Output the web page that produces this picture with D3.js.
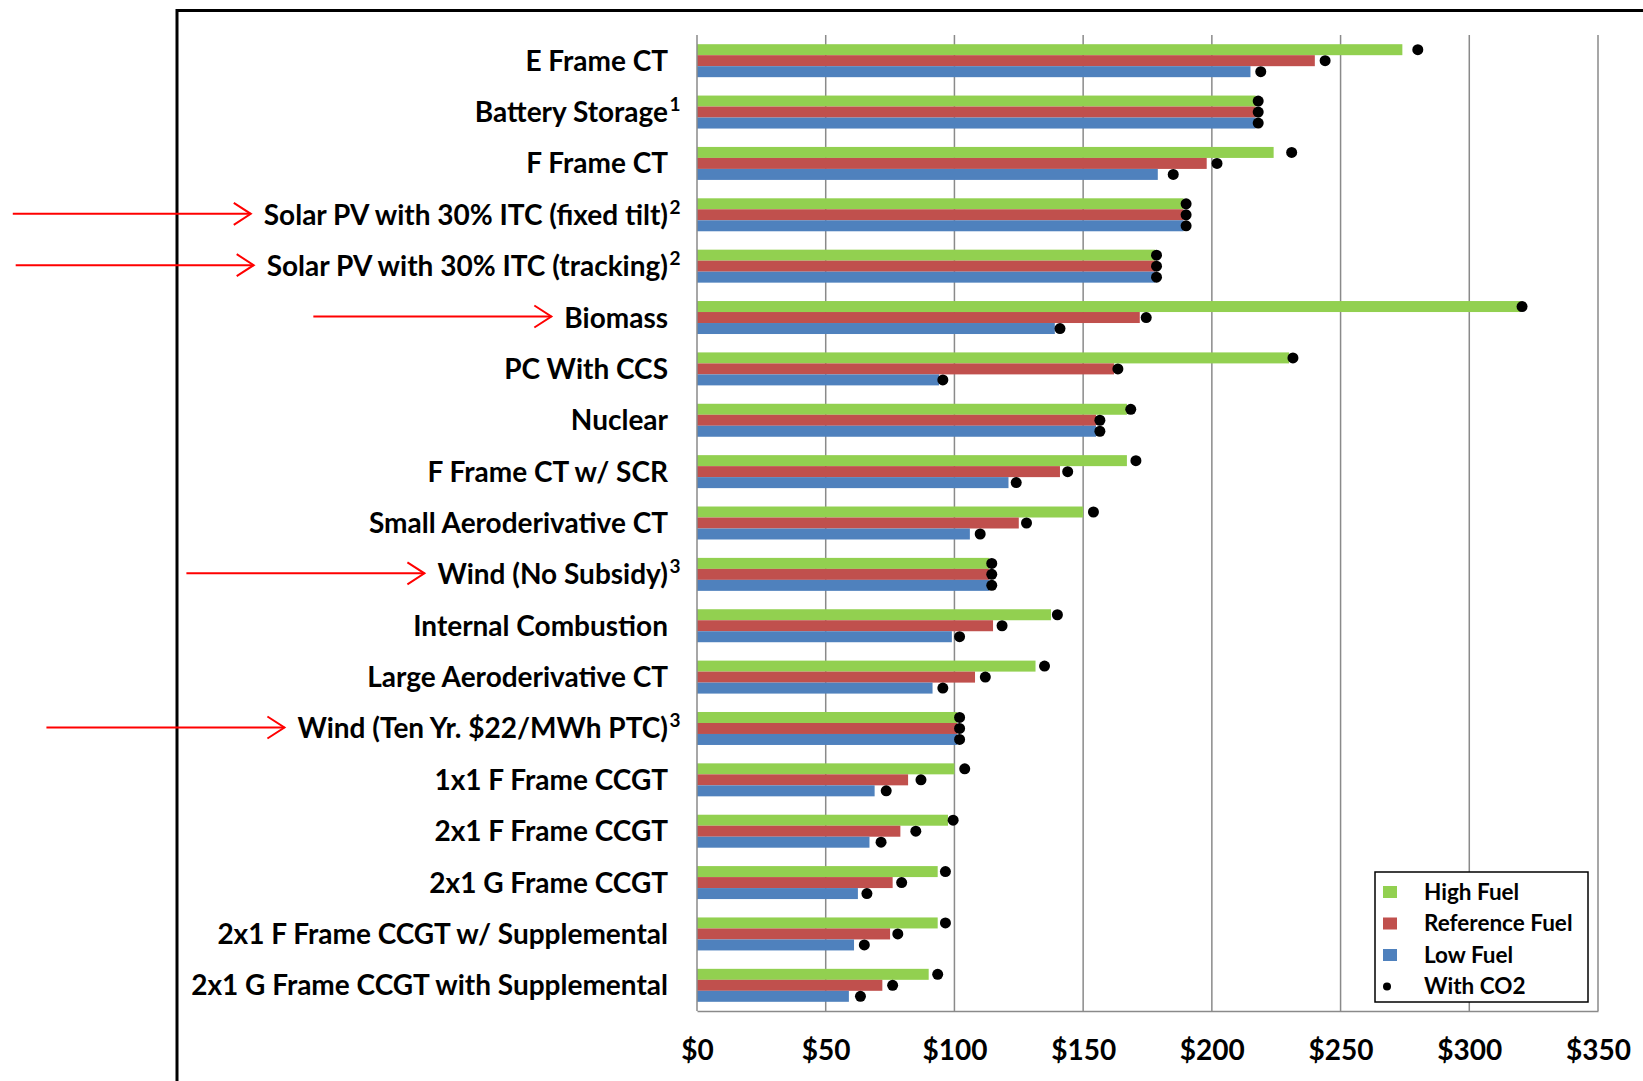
<!DOCTYPE html>
<html><head><meta charset="utf-8">
<script src="https://cdn.jsdelivr.net/npm/d3@7"></script>
<style>
body{margin:0;background:#fff;overflow:hidden}
text{font-family:Lato,"Open Sans",sans-serif;font-weight:700;fill:#000}
</style>
</head><body>
<svg id="chart" width="1643" height="1081"></svg>
<script>
// ---- data ----
const categories = [
  "E Frame CT",
  "Battery Storage",
  "F Frame CT",
  "Solar PV with 30% ITC (fixed tilt)",
  "Solar PV with 30% ITC (tracking)",
  "Biomass",
  "PC With CCS",
  "Nuclear",
  "F Frame CT w/ SCR",
  "Small Aeroderivative CT",
  "Wind (No Subsidy)",
  "Internal Combustion",
  "Large Aeroderivative CT",
  "Wind (Ten Yr. $22/MWh PTC)",
  "1x1 F Frame CCGT",
  "2x1 F Frame CCGT",
  "2x1 G Frame CCGT",
  "2x1 F Frame CCGT w/ Supplemental",
  "2x1 G Frame CCGT with Supplemental"
];
const footnotes = ["", "1", "", "2", "2", "", "", "", "", "", "3", "", "", "3", "", "", "", "", ""];
const highFuel      = [274, 217, 224, 189, 178, 320, 230, 167, 167, 150, 113.5, 137.5, 131.5, 101, 100, 97.5, 93.5, 93.5, 90];
const referenceFuel = [240, 217, 198, 189, 178, 172, 162, 155, 141, 125, 113.5, 115, 108, 101, 82, 79, 76, 75, 72];
const lowFuel       = [215, 217, 179, 189, 178, 139, 94, 155, 121, 106, 113.5, 99, 91.5, 101, 69, 67, 62.5, 61, 59];
const highFuelCO2      = [280, 218, 231, 190, 178.5, 320.5, 231.5, 168.5, 170.5, 154, 114.5, 140, 135, 102, 104, 99.5, 96.5, 96.5, 93.5];
const referenceFuelCO2 = [244, 218, 202, 190, 178.5, 174.5, 163.5, 156.5, 144, 128, 114.5, 118.5, 112, 102, 87, 85, 79.5, 78, 76];
const lowFuelCO2       = [219, 218, 185, 190, 178.5, 141, 95.5, 156.5, 124, 110, 114.5, 102, 95.5, 102, 73.5, 71.5, 66, 65, 63.5];
const seriesNames = ["High Fuel", "Reference Fuel", "Low Fuel"];
const co2Name = "With CO2";
const xTicks = [0, 50, 100, 150, 200, 250, 300, 350];
const arrowedCategories = [
  "Solar PV with 30% ITC (fixed tilt)",
  "Solar PV with 30% ITC (tracking)",
  "Biomass",
  "Wind (No Subsidy)",
  "Wind (Ten Yr. $22/MWh PTC)"
];

(function(){
const colors = {"High Fuel":"#92D050","Reference Fuel":"#C0504D","Low Fuel":"#4F81BD"};
const rows = categories.map((c,i)=>({
  cat:c, note:footnotes[i],
  vals:[
    {s:"High Fuel", v:highFuel[i], co2:highFuelCO2[i]},
    {s:"Reference Fuel", v:referenceFuel[i], co2:referenceFuelCO2[i]},
    {s:"Low Fuel", v:lowFuel[i], co2:lowFuelCO2[i]}
  ]
}));

const svg = d3.select("#chart");
const pL = 697, pR = 1598, pT = 35, pB = 1011;

// outer frame
svg.append("rect").attr("x",177).attr("y",10.5).attr("width",1643).attr("height",1200)
  .attr("fill","#fff").attr("stroke","#000").attr("stroke-width",3);

const x = d3.scaleLinear().domain([0,350]).range([pL,pR]);
const y = d3.scaleBand().domain(categories).range([pT,pB]).paddingInner(0.358).paddingOuter(0.179);
const ys = d3.scaleBand().domain(seriesNames).range([0,y.bandwidth()]);

// gridlines
svg.append("g").selectAll("line").data(xTicks.filter(t=>t>0)).join("line")
  .attr("x1",d=>x(d)).attr("x2",d=>x(d)).attr("y1",pT).attr("y2",pB)
  .attr("stroke","#8a8a8a").attr("stroke-width",1.5);

// bars
const g = svg.append("g").selectAll("g").data(rows).join("g")
  .attr("transform",d=>`translate(0,${y(d.cat)})`);
g.selectAll("rect").data(d=>d.vals).join("rect")
  .attr("x",x(0)).attr("y",d=>ys(d.s)).attr("width",d=>x(d.v)-x(0)).attr("height",ys.bandwidth())
  .attr("fill",d=>colors[d.s]);
g.selectAll("circle").data(d=>d.vals).join("circle")
  .attr("cx",d=>x(d.co2)).attr("cy",d=>ys(d.s)+ys.bandwidth()/2).attr("r",5.5).attr("fill","#000");

// axes lines
svg.append("line").attr("x1",pL).attr("x2",pL).attr("y1",pT).attr("y2",pB)
  .attr("stroke","#8a8a8a").attr("stroke-width",1.5);
const xAxis = svg.append("g").attr("transform",`translate(0,${pB})`)
  .call(d3.axisBottom(x).tickValues(xTicks).tickFormat(d=>"$"+d).tickSize(0).tickPadding(29));
xAxis.select(".domain").attr("stroke","#8a8a8a").attr("stroke-width",1.5);
xAxis.selectAll("text").attr("font-size",28).attr("font-family","Lato, sans-serif").attr("font-weight",700).attr("fill","#000");

// category labels
const labelX = 668;
const lab = svg.append("g").selectAll("g").data(rows).join("g");
lab.append("text").attr("x",labelX).attr("y",d=>y(d.cat)+y.bandwidth()/2+10)
  .attr("text-anchor","end").attr("font-size",28).text(d=>d.cat);
lab.filter(d=>d.note).append("text").attr("x",labelX+1.5).attr("y",d=>y(d.cat)+y.bandwidth()/2-1)
  .attr("font-size",19).text(d=>d.note);

// red arrows
lab.filter(d=>arrowedCategories.includes(d.cat)).each(function(d){
  const t = d3.select(this).select("text").node();
  const bb = t.getBBox();
  const tip = bb.x - 13, cy = y(d.cat)+y.bandwidth()/2 - 1;
  const gg = d3.select(this);
  gg.append("line").attr("x1",tip-238).attr("x2",tip).attr("y1",cy).attr("y2",cy)
    .attr("stroke","#FF0000").attr("stroke-width",2);
  gg.append("path").attr("d",`M${tip-17},${cy-11}L${tip},${cy}L${tip-17},${cy+11}`)
    .attr("fill","none").attr("stroke","#FF0000").attr("stroke-width",2);
});

// legend
const lg = svg.append("g");
lg.append("rect").attr("x",1375).attr("y",872).attr("width",213).attr("height",130)
  .attr("fill","#fff").attr("stroke","#000").attr("stroke-width",1.5);
const legendItems = seriesNames.concat([co2Name]);
legendItems.forEach((n,i)=>{
  const cy = 892 + i*31.5;
  if(i<3){
    lg.append("rect").attr("x",1383).attr("y",cy-6).attr("width",14).attr("height",12).attr("fill",colors[n]);
  } else {
    lg.append("circle").attr("cx",1387).attr("cy",cy).attr("r",4).attr("fill","#000");
  }
  lg.append("text").attr("x",1424).attr("y",cy+7.5).attr("font-size",22.5).text(n);
});
})();
</script>
</body></html>
